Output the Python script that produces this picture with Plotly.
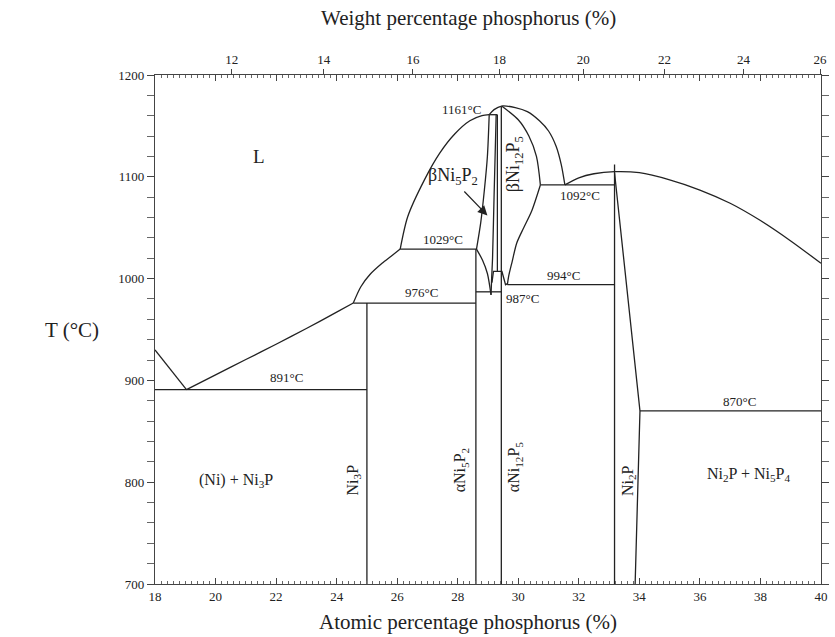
import plotly.graph_objects as go

# ---------------- data (atomic % P, temperature °C) ----------------
liq_ni_x = [18.0, 19.04]
liq_ni_T = [930, 891]

liq_ni3p_x = [19.04, 20.0, 21.0, 22.0, 23.0, 24.0, 24.55]
liq_ni3p_T = [891, 905.5, 920.5, 935.5, 951, 967, 976]

eut891_x = [18.0, 25.0]
eut891_T = [891, 891]

ni3p_x = [25.0, 25.0]
ni3p_T = [976, 700]

line976_x = [24.55, 28.6]
line976_T = [976, 976]

liq_976_1029_x = [24.55, 24.8, 25.1, 25.5, 25.8, 26.1]
liq_976_1029_T = [976, 992, 1004, 1015, 1022, 1029]

line1029_x = [26.1, 28.62]
line1029_T = [1029, 1029]

liq_b5_x = [26.1, 26.35, 26.9, 27.4, 27.9, 28.4, 28.8, 29.04]
liq_b5_T = [1029, 1061, 1097, 1123, 1142, 1155, 1160, 1161]

line1161_x = [29.04, 29.31]
line1161_T = [1161, 1161]

liq_b12_x = [29.04, 29.2, 29.45, 29.9, 30.3, 30.7, 31.0, 31.25, 31.42, 31.54]
liq_b12_T = [1161, 1166, 1169.5, 1168, 1164, 1155, 1145, 1130, 1112, 1092]

sol_b12_up_x = [29.45, 30.0, 30.35, 30.6, 30.73]
sol_b12_up_T = [1169.5, 1156, 1140, 1120, 1092]

sol_b12_low_x = [30.73, 30.45, 30.18, 29.95, 29.8, 29.68, 29.64]
sol_b12_low_T = [1092, 1067, 1050, 1035, 1017, 1002, 994]

line1092_x = [30.73, 33.18]
line1092_T = [1092, 1092]

liq_ni2p_x = [31.54, 32.0, 32.5, 33.18, 34.0, 35.0, 36.0, 37.0, 38.0, 39.0, 40.0]
liq_ni2p_T = [1092, 1099, 1103, 1105, 1104, 1097, 1087, 1074, 1057, 1037, 1015]

ni2p_x = [33.18, 33.18]
ni2p_T = [1112, 700]

ni2p_right_x = [33.18, 34.02, 33.86]
ni2p_right_T = [1104, 870, 700]

line870_x = [34.02, 40.0]
line870_T = [870, 870]

line994_x = [29.64, 33.18]
line994_T = [994, 994]

line987_x = [28.6, 29.44]
line987_T = [987, 987]

a5_x = [28.6, 28.6]
a5_T = [1029, 700]

a12_x = [29.44, 29.44]
a12_T = [1169, 700]

b5_left_x = [29.04, 28.98, 28.88, 28.76, 28.62]
b5_left_T = [1161, 1120, 1087, 1055, 1029]

b5_u_x = [28.62, 28.82, 28.98, 29.1]
b5_u_T = [1029, 1018, 1005, 984]

b5_right_x = [29.27, 29.2, 29.15, 29.12, 29.1]
b5_right_T = [1161, 1080, 1020, 1000, 984]

b5_inner_x = [29.31, 29.31]
b5_inner_T = [1161, 1007]

cap_x = [29.13, 29.18, 29.46, 29.53, 29.58, 29.64]
cap_T = [996, 1007, 1007, 1000, 994, 995]

straight = [
    (liq_ni_x, liq_ni_T), (eut891_x, eut891_T), (ni3p_x, ni3p_T),
    (line976_x, line976_T), (line1029_x, line1029_T), (line1161_x, line1161_T),
    (line1092_x, line1092_T), (ni2p_x, ni2p_T), (ni2p_right_x, ni2p_right_T),
    (line870_x, line870_T), (line994_x, line994_T), (line987_x, line987_T),
    (a5_x, a5_T), (a12_x, a12_T), (b5_inner_x, b5_inner_T), (cap_x, cap_T),
]
curved = [
    (liq_ni3p_x, liq_ni3p_T), (liq_976_1029_x, liq_976_1029_T),
    (liq_b5_x, liq_b5_T), (liq_b12_x, liq_b12_T),
    (sol_b12_up_x, sol_b12_up_T), (sol_b12_low_x, sol_b12_low_T),
    (liq_ni2p_x, liq_ni2p_T), (b5_left_x, b5_left_T), (b5_u_x, b5_u_T),
    (b5_right_x, b5_right_T),
]

weight_ticks = [12, 14, 16, 18, 20, 22, 24, 26]
M_P, M_NI = 30.974, 58.693


def wt_to_at(w):
    p = w / M_P
    n = (100 - w) / M_NI
    return 100 * p / (p + n)


FONT = "Liberation Serif, Times New Roman, serif"
INK = "#222222"

fig = go.Figure()
for sx, sy in straight:
    fig.add_trace(go.Scatter(x=sx, y=sy, mode="lines",
                             line=dict(color=INK, width=1.3),
                             hoverinfo="skip", showlegend=False))
for sx, sy in curved:
    fig.add_trace(go.Scatter(x=sx, y=sy, mode="lines",
                             line=dict(color=INK, width=1.3, shape="spline",
                                       smoothing=0.8),
                             hoverinfo="skip", showlegend=False))

# invisible trace on top axis
fig.add_trace(go.Scatter(x=[18, 40], y=[700, 700], xaxis="x2", mode="lines",
                         line=dict(width=0), hoverinfo="skip", showlegend=False))

ann = []


def lab(text, x, y, size=13, angle=0):
    ann.append(dict(text=text, x=x, y=y, xref="x", yref="y", showarrow=False,
                    textangle=angle, font=dict(family=FONT, size=size, color=INK)))


lab("L", 21.43, 1120, 19)
lab("(Ni) + Ni<sub>3</sub>P", 20.67, 802, 16)
lab("Ni<sub>3</sub>P", 24.55, 802, 16, -90)
lab("αNi<sub>5</sub>P<sub>2</sub>", 28.12, 812, 16, -90)
lab("αNi<sub>12</sub>P<sub>5</sub>", 29.9, 815, 16, -90)
lab("Ni<sub>2</sub>P", 33.62, 802, 16, -90)
lab("Ni<sub>2</sub>P + Ni<sub>5</sub>P<sub>4</sub>", 37.6, 808, 16)
lab("βNi<sub>5</sub>P<sub>2</sub>", 27.85, 1100, 18)
lab("βNi<sub>12</sub>P<sub>5</sub>", 29.88, 1112, 18, -90)
lab("891°C", 22.35, 903, 13)
lab("976°C", 26.8, 986, 13)
lab("1029°C", 27.5, 1038, 13)
lab("1161°C", 28.12, 1166, 13)
lab("987°C", 30.15, 980, 13)
lab("994°C", 31.5, 1003, 13)
lab("1092°C", 32.05, 1082, 13)
lab("870°C", 37.3, 879, 13)

ann.append(dict(x=28.98, y=1062, ax=28.17, ay=1087, axref="x", ayref="y",
                xref="x", yref="y", text="", showarrow=True, arrowhead=2,
                arrowsize=1.6, arrowwidth=1.2, arrowcolor=INK))

ann.append(dict(text="Weight percentage phosphorus (%)", xref="paper", yref="paper",
                x=0.47, y=1.112, yanchor="middle", showarrow=False,
                font=dict(family=FONT, size=21, color=INK)))
ann.append(dict(text="Atomic percentage phosphorus (%)", xref="paper", yref="paper",
                x=0.47, y=-0.075, yanchor="middle", showarrow=False,
                font=dict(family=FONT, size=21, color=INK)))
ann.append(dict(text="T (°C)", xref="paper", yref="paper",
                x=-0.168, y=0.5, yanchor="middle", showarrow=False,
                font=dict(family=FONT, size=21, color=INK)))

tick_font = dict(family=FONT, size=13, color=INK)

fig.update_layout(
    width=835, height=637,
    margin=dict(l=155, r=6, t=75, b=53),
    paper_bgcolor="white", plot_bgcolor="white",
    font=dict(family=FONT, size=13, color=INK),
    annotations=ann,
    xaxis=dict(range=[18, 40], tickvals=list(range(18, 41, 2)),
               ticks="inside", ticklen=6, tickcolor="#444", mirror="allticks",
               showline=True, linecolor="#444", linewidth=1.2, showgrid=False,
               zeroline=False,
               minor=dict(dtick=0.2, ticks="inside", ticklen=3, tickcolor="#666"),
               tickfont=tick_font),
    xaxis2=dict(range=[18, 40], overlaying="x", side="top",
                tickvals=[wt_to_at(w) for w in weight_ticks],
                ticktext=[str(w) for w in weight_ticks],
                ticks="outside", ticklen=5, tickcolor="#444",
                showgrid=False, zeroline=False, showline=False,
                tickfont=tick_font),
    yaxis=dict(range=[700, 1200], tickvals=list(range(700, 1201, 100)),
               ticks="outside", ticklen=7, tickcolor="#444", mirror="allticks",
               showline=True, linecolor="#444", linewidth=1.2, showgrid=False,
               zeroline=False,
               minor=dict(dtick=20, ticks="outside", ticklen=4, tickcolor="#666"),
               tickfont=tick_font),
)

fig.write_html("out.html")
